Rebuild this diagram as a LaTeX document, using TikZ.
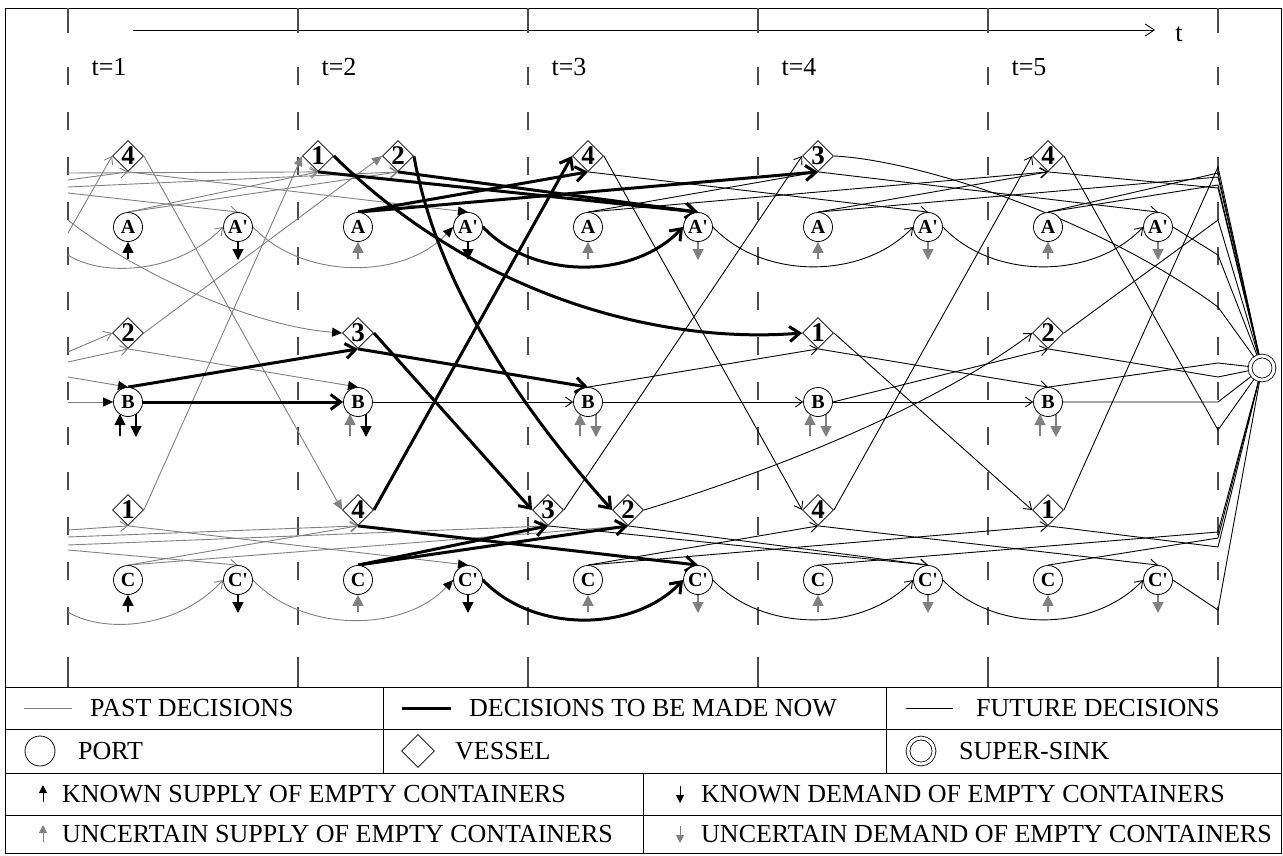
\documentclass[tikz,border=0pt]{standalone}
\usepackage{fontspec}
\setmainfont{Liberation Serif}
\usetikzlibrary{arrows.meta,shapes.geometric,calc}
\definecolor{pastgray}{RGB}{128,128,128}
\pgfdeclarelayer{edges}
\pgfsetlayers{edges,main}
\begin{document}
\begin{tikzpicture}[x=1pt,y=-1pt,
  port/.style={circle,draw,fill=white,line width=0.8pt,minimum size=29pt,inner sep=0pt,font=\fontsize{20}{20}\selectfont\bfseries},
  vessel/.style={diamond,draw,fill=white,line width=0.8pt,minimum width=31pt,minimum height=31pt,inner sep=0pt},
  vlab/.style={font=\fontsize{27}{27}\selectfont\bfseries,inner sep=0pt},
  sinknode/.style={circle,draw,double,double distance=3pt,line width=0.8pt,minimum size=24pt,inner sep=0pt},
  tlab/.style={font=\fontsize{26}{26}\selectfont,inner sep=0pt},
  legtext/.style={font=\fontsize{26}{26}\selectfont,inner sep=0pt,anchor=west},
  pastArr/.style={draw=pastgray,line width=0.9pt,-{Straight Barb[length=7pt,width=10pt]}},
  pastK/.style={draw=pastgray,line width=0.9pt,-{Triangle[length=10pt,width=9pt,color=black,fill=black]}},
  pastG/.style={draw=pastgray,line width=0.9pt,-{Triangle[length=10pt,width=9pt]}},
  nowArr/.style={draw=black,line width=3pt,-{Straight Barb[length=10pt,width=15pt]}},
  futArr/.style={draw=black,line width=0.9pt,-{Straight Barb[length=7pt,width=10pt]}},
  futL/.style={draw=black,line width=0.9pt},
  supkn/.style={draw=black,line width=1.2pt,-{Triangle[length=11pt,width=11pt]}},
  supun/.style={draw=pastgray,line width=1.2pt,-{Triangle[length=11pt,width=11pt]}},
  legkn/.style={draw=black,line width=1pt,-{Triangle[length=8pt,width=8pt]}},
  legun/.style={draw=pastgray,line width=1pt,-{Triangle[length=8pt,width=8pt]}},
  rule/.style={draw=black,line width=0.9pt},
  perline/.style={draw=black!70,line width=1.2pt},
]
\useasboundingbox (0,0) rectangle (1283,856);

% ---------- nodes ----------
\foreach \t/\x in {1/68,2/298,3/528,4/758,5/988} {
  \node[port] (A\t)  at (\x+60,227) {A};
  \node[port] (Ap\t) at (\x+170,227) {A\textquotesingle};
  \node[port] (B\t)  at (\x+60,402) {B};
  \node[port] (C\t)  at (\x+60,580) {C};
  \node[port] (Cp\t) at (\x+170,580) {C\textquotesingle};
  \node[tlab] (T\t)  at (\x+41,67) {t=\t};
}
\node[vessel,label={[vlab,name=lV41]center:4}] (V41) at (128,156) {};
\node[vessel,label={[vlab,name=lV21]center:2}] (V21) at (128,333) {};
\node[vessel,label={[vlab,name=lV11]center:1}] (V11) at (128,510) {};
\node[vessel,label={[vlab,name=lV12]center:1}] (V12) at (318,156) {};
\node[vessel,label={[vlab,name=lV22]center:2}] (V22) at (398,156) {};
\node[vessel,label={[vlab,name=lV32]center:3}] (V32) at (358,333) {};
\node[vessel,label={[vlab,name=lV42]center:4}] (V42) at (358,510) {};
\node[vessel,label={[vlab,name=lV43]center:4}] (V43) at (588,156) {};
\node[vessel,label={[vlab,name=lV33]center:3}] (V33) at (548,510) {};
\node[vessel,label={[vlab,name=lV23]center:2}] (V23) at (628,510) {};
\node[vessel,label={[vlab,name=lV34]center:3}] (V34) at (818,156) {};
\node[vessel,label={[vlab,name=lV14]center:1}] (V14) at (818,333) {};
\node[vessel,label={[vlab,name=lV44]center:4}] (V44) at (818,510) {};
\node[vessel,label={[vlab,name=lV45]center:4}] (V45) at (1048,156) {};
\node[vessel,label={[vlab,name=lV25]center:2}] (V25) at (1048,333) {};
\node[vessel,label={[vlab,name=lV15]center:1}] (V15) at (1048,510) {};
\node[sinknode] (S) at (1262,368) {};
\node[tlab] (tax) at (1179,34) {t};

% free ends
\foreach \y in {173,180,187,193,220,233,255,352,362,377,402,530,537,545,550,612}
  \coordinate (L\y) at (68,\y);
\foreach \y in {167,173,177,185,188,220,255,307,363,377,402,430,532,538,547,610}
  \coordinate (R\y) at (1218,\y);

% legend nodes
\node[port,minimum size=30pt] (lgPort) at (40,751) {};
\node[vessel,minimum width=33pt,minimum height=33pt] (lgVes) at (418,751) {};
\node[sinknode,minimum size=26pt] (lgSink) at (921,751) {};
\node[legtext] (lg1) at (90,708) {PAST DECISIONS};
\node[legtext] (lg2) at (469,708) {DECISIONS TO BE MADE NOW};
\node[legtext] (lg3) at (976,708) {FUTURE DECISIONS};
\node[legtext] (lg4) at (78,751) {PORT};
\node[legtext] (lg5) at (455,751) {VESSEL};
\node[legtext] (lg6) at (959,751) {SUPER-SINK};
\node[legtext] (lg7) at (62,794) {KNOWN SUPPLY OF EMPTY CONTAINERS};
\node[legtext] (lg8) at (701,794) {KNOWN DEMAND OF EMPTY CONTAINERS};
\node[legtext] (lg9) at (62,834) {UNCERTAIN SUPPLY OF EMPTY CONTAINERS};
\node[legtext] (lg10) at (701,834) {UNCERTAIN DEMAND OF EMPTY CONTAINERS};

\begin{pgfonlayer}{edges}
% frame, axis, period lines
\draw[rule] (5,8) rectangle (1281,853);
\draw[rule,-{Straight Barb[length=9pt,width=12pt]}] (133,30) -- (1155,30);
\foreach \x in {68,298,528,758,988,1218} {
  \draw[perline] (\x,8) -- (\x,33);
  \draw[perline,dash pattern=on 18pt off 27pt] (\x,67) -- (\x,642);
  \draw[perline] (\x,657) -- (\x,687);
}
% legend table
\draw[rule] (5,687) -- (1281,687);
\draw[rule] (5,729) -- (1281,729);
\draw[rule] (5,773) -- (1281,773);
\draw[rule] (5,815) -- (1281,815);
\draw[rule] (383,687) -- (383,773);
\draw[rule] (886,687) -- (886,773);
\draw[rule] (643,773) -- (643,853);
\draw[draw=pastgray,line width=0.9pt] (24,708) -- (72,708);
\draw[draw=black,line width=3pt] (402,708) -- (451,708);
\draw[draw=black,line width=0.9pt] (906,708) -- (953,708);
\draw[legkn] (43,802) -- (43,785);
\draw[legkn] (680,786) -- (680,803);
\draw[legun] (43,842) -- (43,825);
\draw[legun] (680,826) -- (680,843);

% supply / demand arrows
\foreach \t/\sa/\da in {1/supkn/supkn,2/supun/supkn,3/supun/supun,4/supun/supun,5/supun/supun} {
  \draw[\sa] ($(A\t)+(0,32)$) -- (A\t.south);
  \draw[\da] (Ap\t.south) -- ($(Ap\t)+(0,33)$);
  \draw[\sa] ($(B\t)+(-8,34)$) -- ($(B\t)+(-8,12)$);
  \draw[\da] ($(B\t)+(8,12)$) -- ($(B\t)+(8,35)$);
  \draw[\sa] ($(C\t)+(0,32)$) -- (C\t.south);
  \draw[\da] (Cp\t.south) -- ($(Cp\t)+(0,33)$);
}

% ---------- past decisions ----------
\draw[pastArr] (L173) -- (V12.south);
\draw[pastArr] (L180) -- (V41.south);
\draw[pastArr] (L187) -- (V22.south);
\draw[pastArr] (L193) -- (Ap1.north);
\draw[pastArr] (A1.north) -- (V12.south);
\draw[pastArr] (A1.north) -- (V22.south);
\draw[pastK] (V41.south) -- (Ap2.north);
\draw[pastArr] (L233) -- (V41.west);
\draw[pastK] (L220) .. controls (120,262) and (240,325) .. (V32.west);
\draw[pastArr] (L255) .. controls (100,276) and (175,276) .. (Ap1.west);
\draw[pastK] (Ap1.east) .. controls +(50,53) and +(-50,53) .. (Ap2.west);
\draw[pastG] (V41.east) -- (V42.west);
\draw[pastG] (V21.east) -- (V22.west);
\draw[pastG] (V11.east) -- (V12.west);
\draw[pastArr] (L352) -- (V21.west);
\draw[pastArr] (L362) -- (V21.south);
\draw[pastK] (L377) -- (B1.north);
\draw[pastK] (L402) -- (B1.west);
\draw[pastK] (V21.south) -- (B2.north);
\draw[pastArr] (L530) -- (V11.south);
\draw[pastArr] (L537) -- (V42.south);
\draw[pastArr] (L545) -- (V33.south);
\draw[pastArr] (L550) -- (Cp1.north);
\draw[pastArr] (C1.north) -- (V42.south);
\draw[pastArr] (C1.north) -- (V23.south);
\draw[pastK] (V11.south) -- (Cp2.north);
\draw[pastArr] (L612) .. controls (100,632) and (175,632) .. (Cp1.west);
\draw[pastK] (Cp1.east) .. controls +(50,53) and +(-50,53) .. (Cp2.west);

% ---------- decisions to be made now ----------
\draw[nowArr] (V12.east) .. controls (470,290) and (650,345) .. (V14.west);
\draw[nowArr] (V22.east) .. controls (440,300) and (540,430) .. (V23.west);
\draw[nowArr] (V32.east) -- (V33.west);
\draw[nowArr] (V42.east) -- (V43.west);
\draw[nowArr] (A2.north) -- (V43.south);
\draw[nowArr] (A2.north) -- (V34.south);
\draw[nowArr] (V12.south) -- (Ap3.north);
\draw[nowArr] (V22.south) -- (Ap3.north);
\draw[nowArr] (Ap2.east) .. controls +(50,53) and +(-50,53) .. (Ap3.west);
\draw[nowArr] (B1.north) -- (V32.south);
\draw[nowArr] (B1.east) -- (B2.west);
\draw[nowArr] (V32.south) -- (B3.north);
\draw[nowArr] (C2.north) -- (V33.south);
\draw[nowArr] (C2.north) -- (V23.south);
\draw[nowArr] (V42.south) -- (Cp3.north);
\draw[nowArr] (Cp2.east) .. controls +(50,53) and +(-50,53) .. (Cp3.west);

% ---------- future decisions ----------
\draw[futArr] (B2.east) -- (B3.west);
\draw[futArr] (B3.east) -- (B4.west);
\draw[futArr] (B4.east) -- (B5.west);
\draw[futL] (B5.east) -- (R402) -- (S);
\draw[futArr] (Ap3.east) .. controls +(50,53) and +(-50,53) .. (Ap4.west);
\draw[futArr] (Ap4.east) .. controls +(50,53) and +(-50,53) .. (Ap5.west);
\draw[futL] (Ap5.east) -- (R255) -- (S);
\draw[futArr] (Cp3.east) .. controls +(50,53) and +(-50,53) .. (Cp4.west);
\draw[futArr] (Cp4.east) .. controls +(50,53) and +(-50,53) .. (Cp5.west);
\draw[futL] (Cp5.east) -- (R610) -- (S);
\draw[futArr] (A3.north) -- (V34.south);
\draw[futArr] (A3.north) -- (V45.south);
\draw[futArr] (V43.south) -- (Ap4.north);
\draw[futArr] (V34.south) -- (Ap5.north);
\draw[futArr] (A4.north) -- (V45.south);
\draw[futL] (A4.north) -- (R177) -- (S);
\draw[futL] (A5.north) -- (R173) -- (S);
\draw[futL] (A5.north) -- (R185) -- (S);
\draw[futL] (V45.south) -- (R188) -- (S);
\draw[futArr] (B3.north) -- (V14.south);
\draw[futArr] (V14.south) -- (B5.north);
\draw[futArr] (B4.east) -- (V25.south);
\draw[futL] (V25.south) -- (R377) -- (S);
\draw[futL] (B5.north) -- (R363) -- (S);
\draw[futArr] (C3.north) -- (V44.south);
\draw[futArr] (C3.north) -- (V15.south);
\draw[futArr] (V33.south) -- (Cp4.north);
\draw[futArr] (V23.south) -- (Cp4.north);
\draw[futArr] (V44.south) -- (Cp5.north);
\draw[futL] (C4.north) -- (R532) -- (S);
\draw[futL] (C5.north) -- (R538) -- (S);
\draw[futL] (V15.south) -- (R547) -- (S);
\draw[futArr] (V43.east) -- (V44.west);
\draw[futArr] (V33.east) -- (V34.west);
\draw[futArr] (V23.east) .. controls (760,475) and (930,410) .. (V25.west);
\draw[futArr] (V14.east) -- (V15.west);
\draw[futArr] (V44.east) -- (V45.west);
\draw[futL] (V34.east) .. controls (920,160) and (1100,220) .. (R307) -- (S);
\draw[futL] (V45.east) -- (R430) -- (S);
\draw[futL] (V25.east) -- (R220) -- (S);
\draw[futL] (V15.east) -- (R167) -- (S);
\end{pgfonlayer}
\end{tikzpicture}
\end{document}
